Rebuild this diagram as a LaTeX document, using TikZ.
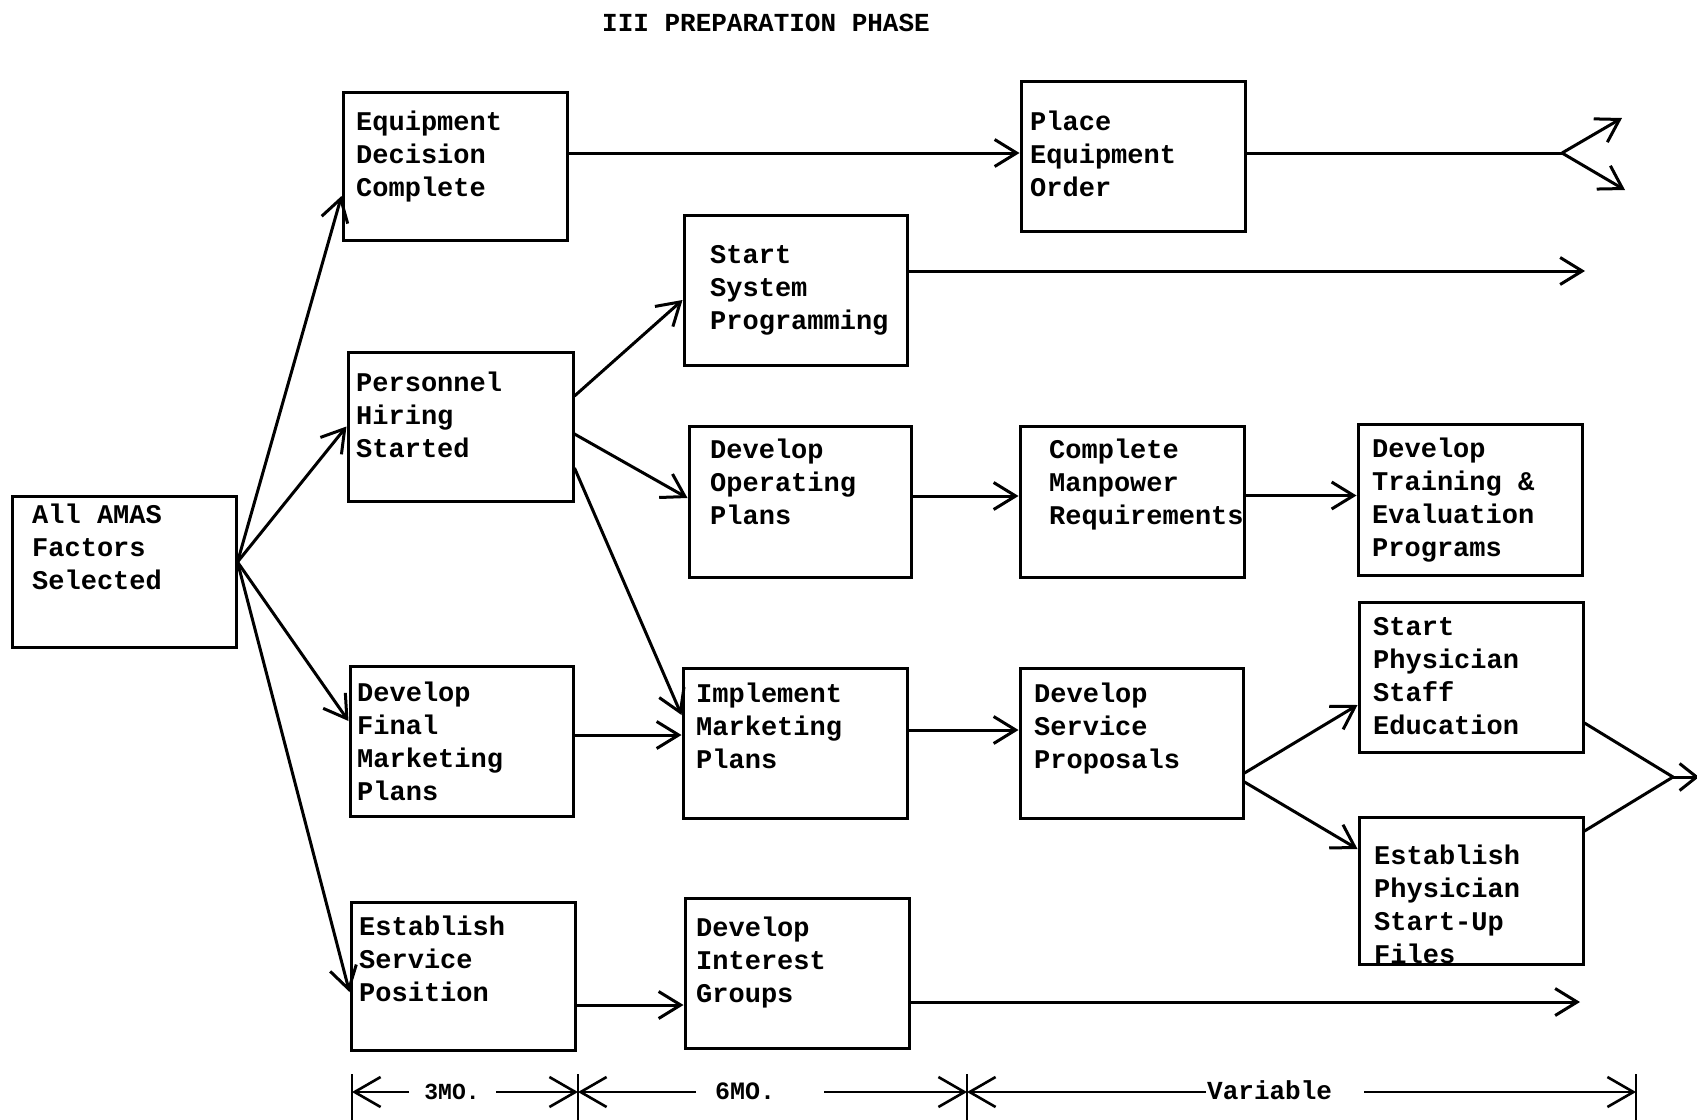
\documentclass[tikz,border=0pt]{standalone}
\usepackage{fontspec}
\setmonofont{Liberation Mono}
\usetikzlibrary{arrows.meta}
\newcommand{\lns}[1]{\vtop{\baselineskip=33.2pt\lineskiplimit=-100pt\halign{##\hfil\cr#1\crcr}}}
\tikzset{
  boxn/.style 2 args={draw, line width=3pt, inner sep=0pt, minimum width=#1pt, minimum height=#2pt},
  txt/.style={anchor=base west, inner sep=0pt, font=\ttfamily\bfseries\fontsize{27pt}{33.2pt}\selectfont},
  ln/.style={line width=3pt, line join=round},
  conn/.style={line width=3pt, line join=round, -{Straight Barb[length=22pt,width=27pt]}},
  dim/.style={line width=2.6pt, -{Straight Barb[length=26pt,width=30pt]}},
  tick/.style={line width=2.2pt},
  lab/.style={anchor=base, inner sep=0pt, font=\ttfamily\bfseries\fontsize{#1pt}{30pt}\selectfont},
}
\begin{document}
\begin{tikzpicture}[x=1pt,y=-1pt]
\fill[white] (0,0) rectangle (1697,1119);
\useasboundingbox (0,0) rectangle (1697,1119);

% title
\node[anchor=base, inner sep=0pt, font=\ttfamily\bfseries\fontsize{26pt}{30pt}\selectfont] (title) at (766,31) {III PREPARATION PHASE};

% boxes
\node[boxn={224}{151}] (ams) at (124,571.5) {};
\node[boxn={224}{148}] (eqd) at (455,166) {};
\node[boxn={225}{149}] (phs) at (460.5,426.5) {};
\node[boxn={223}{150}] (dfm) at (461.5,741) {};
\node[boxn={224}{148}] (ess) at (463,976) {};
\node[boxn={223}{150}] (ssp) at (795.5,290) {};
\node[boxn={222}{151}] (dop) at (800,501.5) {};
\node[boxn={224}{150}] (imp) at (795,743) {};
\node[boxn={224}{150}] (dig) at (797,973) {};
\node[boxn={224}{150}] (peo) at (1133,156) {};
\node[boxn={224}{151}] (cmr) at (1132,501.5) {};
\node[boxn={223}{150}] (dsp) at (1131.5,743) {};
\node[boxn={224}{151}] (dte) at (1470,499.5) {};
\node[boxn={224}{150}] (spe) at (1471,677) {};
\node[boxn={224}{147}] (epf) at (1471,890.5) {};

% texts
\node[txt] (amsT) at (32,523) {\lns{All AMAS\cr Factors\cr Selected}};
\node[txt] (eqdT) at (356,130) {\lns{Equipment\cr Decision\cr Complete}};
\node[txt] (phsT) at (356,391) {\lns{Personnel\cr Hiring\cr Started}};
\node[txt] (dfmT) at (357,701) {\lns{Develop\cr Final\cr Marketing\cr Plans}};
\node[txt] (essT) at (359,935) {\lns{Establish\cr Service\cr Position}};
\node[txt] (sspT) at (710,263) {\lns{Start\cr System\cr Programming}};
\node[txt] (dopT) at (710,458) {\lns{Develop\cr Operating\cr Plans}};
\node[txt] (impT) at (696,702) {\lns{Implement\cr Marketing\cr Plans}};
\node[txt] (digT) at (696,936) {\lns{Develop\cr Interest\cr Groups}};
\node[txt] (peoT) at (1030,130) {\lns{Place\cr Equipment\cr Order}};
\node[txt] (cmrT) at (1049,458) {\lns{Complete\cr Manpower\cr Requirements}};
\node[txt] (dspT) at (1034,702) {\lns{Develop\cr Service\cr Proposals}};
\node[txt] (dteT) at (1372,457) {\lns{Develop\cr Training \&\cr Evaluation\cr Programs}};
\node[txt] (speT) at (1373,635) {\lns{Start\cr Physician\cr Staff\cr Education}};
\node[txt] (epfT) at (1374,864) {\lns{Establish\cr Physician\cr Start-Up\cr Files}};

% free-end coordinates
\coordinate (split) at (1562,153);
\coordinate (splitup) at (1622,118);
\coordinate (splitdn) at (1625,190);
\coordinate (sspend) at (1585,271);
\coordinate (merge) at (1673,777);
\coordinate (mergeend) at (1699,777);
\coordinate (digend) at (1580,1002);

% connectors from All AMAS
\draw[conn] ([yshift=9.5pt]ams.east) -- ([yshift=-30pt]eqd.west);
\draw[conn] ([yshift=9.5pt]ams.east) -- (phs.west);
\draw[conn] ([yshift=9.5pt]ams.east) -- ([yshift=20pt]dfm.west);
\draw[conn] ([yshift=9.5pt]ams.east) -- ([yshift=-16pt]ess.west);

% from Personnel
\draw[conn] ([yshift=30.5pt]phs.east) -- ([yshift=-10pt]ssp.west);
\draw[conn] ([yshift=-7.5pt]phs.east) -- ([yshift=3.5pt]dop.west);
\draw[conn] ([yshift=-41.5pt]phs.east) -- ([yshift=28pt]imp.west);

\draw[conn] ([yshift=6pt]dfm.east) -- ([yshift=8pt]imp.west);
\draw[conn] ([yshift=-29pt]ess.east) -- ([yshift=-32pt]dig.west);

\draw[conn] ([yshift=13pt]eqd.east) -- ([yshift=3pt]peo.west);
\draw[ln] ([yshift=3pt]peo.east) -- (split);
\draw[conn] (split) -- (splitup);
\draw[conn] (split) -- (splitdn);

\draw[conn] ([yshift=19pt]ssp.east) -- (sspend);
\draw[conn] ([yshift=5.5pt]dop.east) -- ([yshift=5.5pt]cmr.west);
\draw[conn] ([yshift=6pt]cmr.east) -- ([yshift=4pt]dte.west);
\draw[conn] ([yshift=13pt]imp.east) -- ([yshift=13pt]dsp.west);
\draw[conn] ([yshift=-30pt]dsp.east) -- ([yshift=-28pt]spe.west);
\draw[conn] ([yshift=-39pt]dsp.east) -- ([yshift=41.5pt]epf.west);
\draw[ln] ([yshift=-46pt]spe.east) -- (merge) -- ([yshift=59.5pt]epf.east);
\draw[conn, -{Straight Barb[length=17pt,width=27pt]}] (merge) -- (mergeend);
\draw[conn] ([yshift=-29pt]dig.east) -- (digend);

% time scale
\coordinate (t1) at (352,1092);
\coordinate (t2) at (578,1092);
\coordinate (t3) at (967,1092);
\coordinate (t4) at (1636,1092);
\foreach \t in {t1,t2,t3,t4} \draw[tick] ([yshift=18pt]\t) -- ([yshift=-40pt]\t);
\coordinate (a1) at (409,1092);
\coordinate (a2) at (496,1092);
\coordinate (a3) at (696,1092);
\coordinate (a4) at (824,1092);
\coordinate (a5) at (1206,1092);
\coordinate (a6) at (1364,1092);
\draw[dim] (a1) -- (t1);
\draw[dim] (a2) -- (t2);
\draw[dim] (a3) -- (t2);
\draw[dim] (a4) -- (t3);
\draw[dim] (a5) -- (t3);
\draw[dim] (a6) -- (t4);
\node[lab=23] (l3) at (452,1099) {3MO.};
\node[lab=25] (l6) at (745,1099) {6MO.};
\node[lab=26, anchor=base west] (lv) at (1207,1099) {Variable};
\end{tikzpicture}
\end{document}
